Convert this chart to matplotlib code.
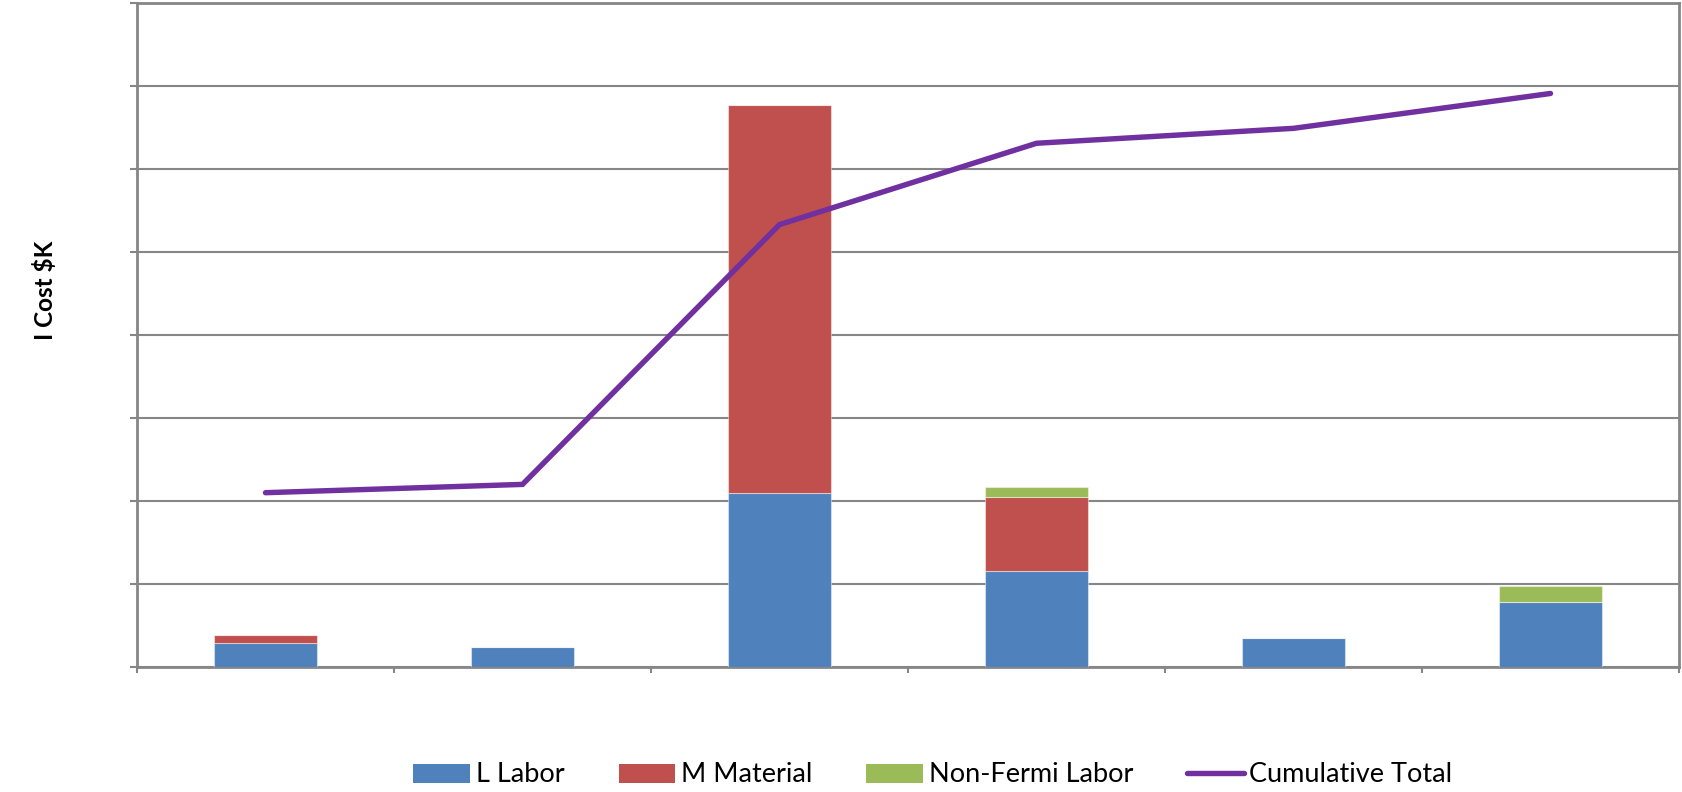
import numpy as np
import matplotlib
matplotlib.use("Agg")
import matplotlib.pyplot as plt
from matplotlib.lines import Line2D
from matplotlib.patches import Patch

# Cost per period ($K), stacked by type, plus running total
periods = ["P1", "P2", "P3", "P4", "P5", "P6"]
labor = [28.5, 24.5, 210.0, 115.7, 35.3, 78.7]
material = [10.5, 0.0, 467.0, 89.3, 0.0, 0.0]
non_fermi = [0.0, 0.0, 0.0, 11.5, 0.0, 19.3]
cumulative = [210.0, 220.0, 533.0, 631.0, 649.0, 691.0]

C_LABOR = "#4F81BD"
C_MATERIAL = "#C0504D"
C_NONFERMI = "#9BBB59"
C_TOTAL = "#7030A0"
C_GRID = "#868686"

plt.rcParams["font.family"] = ["Lato", "DejaVu Sans"]

fig = plt.figure(figsize=(16.82, 7.92), dpi=100)
ax = fig.add_axes([137 / 1682, 125 / 792, (1679 - 137) / 1682, (667 - 3) / 792])

x = np.arange(len(periods))
lab = np.array(labor)
mat = np.array(material)
nf = np.array(non_fermi)
w = 0.4
edge = dict(edgecolor=(1, 1, 1, 0.45), linewidth=0.8)
ax.bar(x, lab, w, color=C_LABOR, zorder=3, **edge)
ax.bar(x, mat, w, bottom=lab, color=C_MATERIAL, zorder=3, **edge)
ax.bar(x, nf, w, bottom=lab + mat, color=C_NONFERMI, zorder=3, **edge)
ax.plot(x, cumulative, color=C_TOTAL, lw=3.9, solid_capstyle="round",
        solid_joinstyle="miter", zorder=4)

ax.set_xlim(-0.5, len(periods) - 0.5)
ax.set_ylim(0, 800)
ax.set_yticks(np.arange(0, 801, 100))
ax.yaxis.grid(True, color=C_GRID, lw=1.5, zorder=1)
ax.set_yticklabels([])
ax.set_xticks([])
ax.set_xticks(np.arange(-0.5, len(periods), 1.0), minor=True)
ax.tick_params(axis="x", which="minor", length=4, width=1.5, color=C_GRID,
               labelbottom=False)
ax.tick_params(axis="y", length=5, width=1.5, color=C_GRID, left=True)
for s in ax.spines.values():
    s.set_color(C_GRID)
    s.set_linewidth(2.0)

fig.text(45 / 1682, 1 - 290 / 792, "I Cost $K", rotation=90, ha="center",
         va="center", fontsize=17.5, fontweight="bold")

handles = [
    Patch(facecolor=C_LABOR, edgecolor="none", label="L Labor"),
    Patch(facecolor=C_MATERIAL, edgecolor="none", label="M Material"),
    Patch(facecolor=C_NONFERMI, edgecolor="none", label="Non-Fermi Labor"),
    Line2D([0], [0], color=C_TOTAL, lw=3.9, solid_capstyle="round",
           label="Cumulative Total"),
]
fig.legend(handles=handles, loc="center", bbox_to_anchor=(933 / 1682, 17 / 792),
           ncol=4, frameon=False, fontsize=19.5, handlelength=2.1,
           handleheight=0.7, handletextpad=0.2, columnspacing=2.0)

fig.savefig("out.png", dpi=100)
